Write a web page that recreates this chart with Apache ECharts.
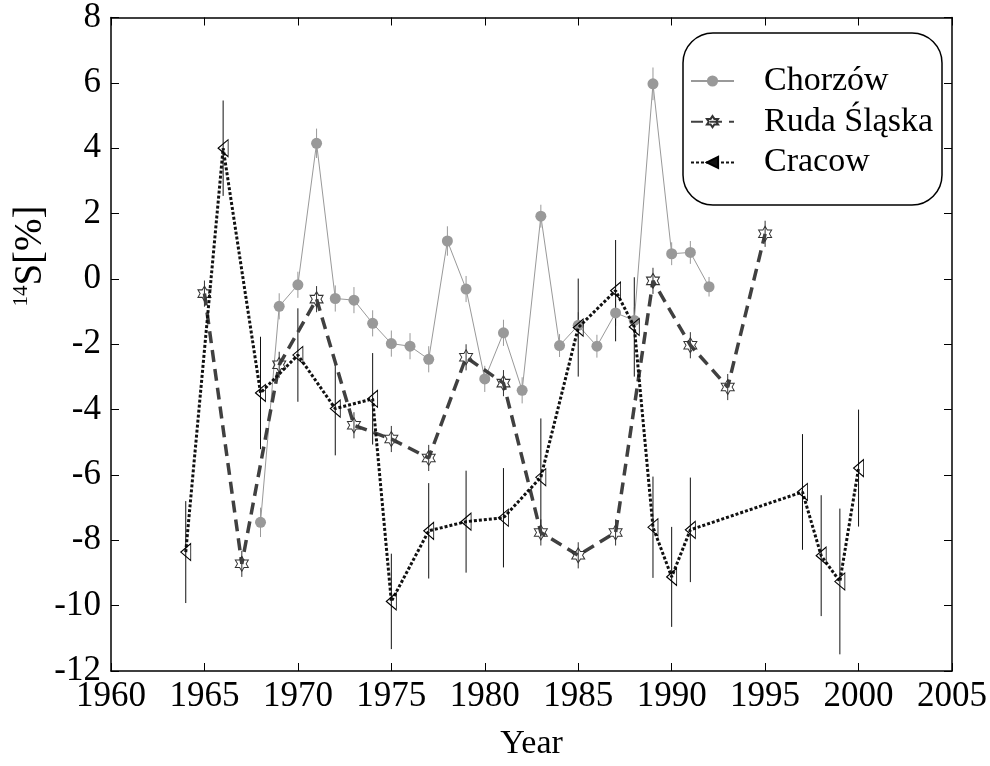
<!DOCTYPE html>
<html>
<head>
<meta charset="utf-8">
<script src="https://cdn.jsdelivr.net/npm/echarts@6/dist/echarts.min.js"></script>
<style>
  html, body { margin: 0; padding: 0; background: #fff; }
  #chart { width: 990px; height: 766px; }
</style>
</head>
<body>
<div id="chart"></div>
<script>
// 数据
const chorzowYears = [1968, 1969, 1970, 1971, 1972, 1973, 1974, 1975, 1976, 1977, 1978, 1979, 1980,
  1981, 1982, 1983, 1984, 1985, 1986, 1987, 1988, 1989, 1990, 1991, 1992];
const chorzowValues = [-7.45, -0.84, -0.18, 4.15, -0.6, -0.65, -1.36, -1.98, -2.06, -2.46, 1.16, -0.31, -3.06,
  -1.65, -3.41, 1.92, -2.04, -1.42, -2.06, -1.04, -1.27, 5.97, 0.77, 0.81, -0.24];
const chorzowErr = [0.45, 0.4, 0.4, 0.45, 0.4, 0.4, 0.4, 0.4, 0.4, 0.4, 0.45, 0.4, 0.4,
  0.4, 0.4, 0.35, 0.35, 0.4, 0.35, 0.4, 0.4, 0.5, 0.35, 0.35, 0.3];

const rudaYears = [1965, 1967, 1969, 1971, 1973, 1975, 1977, 1979, 1981, 1983, 1985, 1987, 1989, 1991, 1993, 1995];
const rudaValues = [-0.45, -8.72, -2.63, -0.62, -4.48, -4.9, -5.48, -2.4, -3.19, -7.76, -8.46, -7.76, -0.06, -2.03, -3.31, 1.38];
const rudaErr = [0.4, 0.4, 0.4, 0.4, 0.4, 0.4, 0.4, 0.4, 0.4, 0.4, 0.4, 0.4, 0.4, 0.4, 0.4, 0.4];

const cracowYears = [1964, 1966, 1968, 1970, 1972, 1974, 1975, 1977, 1979, 1981, 1983, 1985, 1987, 1988,
  1989, 1990, 1991, 1997, 1998, 1999, 2000];
const cracowValues = [-8.36, 4.0, -3.49, -2.33, -3.97, -3.67, -9.87, -7.71, -7.43, -7.31, -6.07, -1.49, -0.36, -1.47,
  -7.6, -9.12, -7.68, -6.52, -8.47, -9.26, -5.79];
const cracowErr = [1.56, 1.46, 1.72, 1.43, 1.43, 1.4, 1.46, 1.46, 1.56, 1.52, 1.8, 1.5, 1.55, 1.52,
  1.55, 1.53, 1.6, 1.77, 1.85, 2.23, 1.79];

const xTicks = {min: 1960, max: 2005, interval: 5};
const yTicks = {min: -12, max: 8, interval: 2};

const font = '"Liberation Serif", "DejaVu Serif", serif';
// 六角星
const hexagram = 'path://M0,-10 L2.887,-5 L8.66,-5 L5.77,0 L8.66,5 L2.887,5 L0,10 L-2.887,5 L-8.66,5 L-5.77,0 L-8.66,-5 L-2.887,-5 Z';

function pairs(xs, ys) {
    return xs.map((x, i) => [x, ys[i]]);
}
function bars(xs, ys, es) {
    return xs.map((x, i) => [x, ys[i] - es[i], ys[i] + es[i]]);
}

function errorSeries(data, color) {
    return {
        type: 'custom',
        silent: true,
        data: data,
        encode: {x: 0, y: [1, 2]},
        z: 1,
        renderItem: (params, api) => {
            const x = api.value(0);
            const p1 = api.coord([x, api.value(1)]);
            const p2 = api.coord([x, api.value(2)]);
            return {
                type: 'line',
                shape: {x1: p1[0], y1: p1[1], x2: p2[0], y2: p2[1]},
                style: {stroke: color, lineWidth: 1}
            };
        }
    };
}

const axisCommon = {
    type: 'value',
    axisLine: {show: true, onZero: false, lineStyle: {color: '#000', width: 1.5}},
    axisTick: {show: true, inside: true, length: 8, lineStyle: {color: '#000', width: 1}},
    splitLine: {show: false},
};

let option = {
    animation: false,
    backgroundColor: '#fff',
    grid: {left: 111, right: 38, top: 17, bottom: 88},
    xAxis: [
        Object.assign({}, axisCommon, xTicks, {
            position: 'bottom',
            name: 'Year',
            nameLocation: 'middle',
            nameGap: 56,
            nameTextStyle: {fontFamily: font, fontSize: 34, color: '#000'},
            axisLabel: {fontFamily: font, fontSize: 35, color: '#000', margin: 8, formatter: v => String(v)}
        }),
        Object.assign({}, axisCommon, xTicks, {position: 'top', axisLabel: {show: false}})
    ],
    yAxis: [
        Object.assign({}, axisCommon, yTicks, {
            position: 'left',
            axisLabel: {fontFamily: font, fontSize: 35, color: '#000', margin: 10, formatter: v => String(v)}
        }),
        Object.assign({}, axisCommon, yTicks, {position: 'right', axisLabel: {show: false}})
    ],
    legend: {
        left: 690,
        top: 61,
        orient: 'vertical',
        itemWidth: 43,
        itemHeight: 14,
        itemGap: 0.7,
        padding: 0,
        textStyle: {fontFamily: font, fontSize: 34, color: '#000', lineHeight: 40, padding: [0, 0, 0, 25]},
        data: [
            {name: 'Chorzów'},
            {name: 'Ruda Śląska'},
            {name: 'Cracow', itemStyle: {color: '#111'}}
        ]
    },
    graphic: [
        {
            type: 'rect',
            shape: {x: 683, y: 33, width: 259, height: 172, r: 30},
            style: {fill: 'none', stroke: '#000', lineWidth: 1.5},
            z: 0
        },
        {
            type: 'text',
            x: 31,
            y: 256,
            rotation: Math.PI / 2,
            style: {
                text: '{sup|14}{m|S[%]}',
                font: '38px "Liberation Serif"',
                fill: '#000',
                align: 'center',
                verticalAlign: 'middle',
                rich: {
                    sup: {font: '21px "Liberation Serif"', fill: '#000', verticalAlign: 'top', lineHeight: 40},
                    m: {font: '39px "Liberation Serif"', fill: '#000', lineHeight: 40}
                }
            }
        }
    ],
    series: [
        errorSeries(bars(chorzowYears, chorzowValues, chorzowErr), '#999'),
        errorSeries(bars(rudaYears, rudaValues, rudaErr), '#333'),
        errorSeries(bars(cracowYears, cracowValues, cracowErr), '#111'),
        {
            name: 'Chorzów',
            type: 'line',
            data: pairs(chorzowYears, chorzowValues),
            symbol: 'circle',
            symbolSize: 11,
            color: '#999',
            itemStyle: {color: '#999'},
            lineStyle: {color: '#999', width: 1},
            z: 2
        },
        {
            name: 'Ruda Śląska',
            type: 'line',
            data: pairs(rudaYears, rudaValues),
            symbol: hexagram,
            symbolSize: [13, 15],
            color: '#404040',
            itemStyle: {color: 'rgba(255,255,255,0)', borderColor: '#333', borderWidth: 1},
            lineStyle: {color: '#404040', width: 3.5, type: [12, 7]},
            z: 3
        },
        {
            name: 'Cracow',
            type: 'line',
            data: pairs(cracowYears, cracowValues),
            symbol: 'triangle',
            symbolRotate: 90,
            symbolSize: [17, 10],
            color: '#111',
            itemStyle: {color: 'rgba(255,255,255,0)', borderColor: '#000', borderWidth: 1},
            lineStyle: {color: '#111', width: 3, type: [3, 2]},
            z: 4
        }
    ]
};

const myChart = echarts.init(document.getElementById('chart'));
myChart.setOption(option);
</script>
</body>
</html>
